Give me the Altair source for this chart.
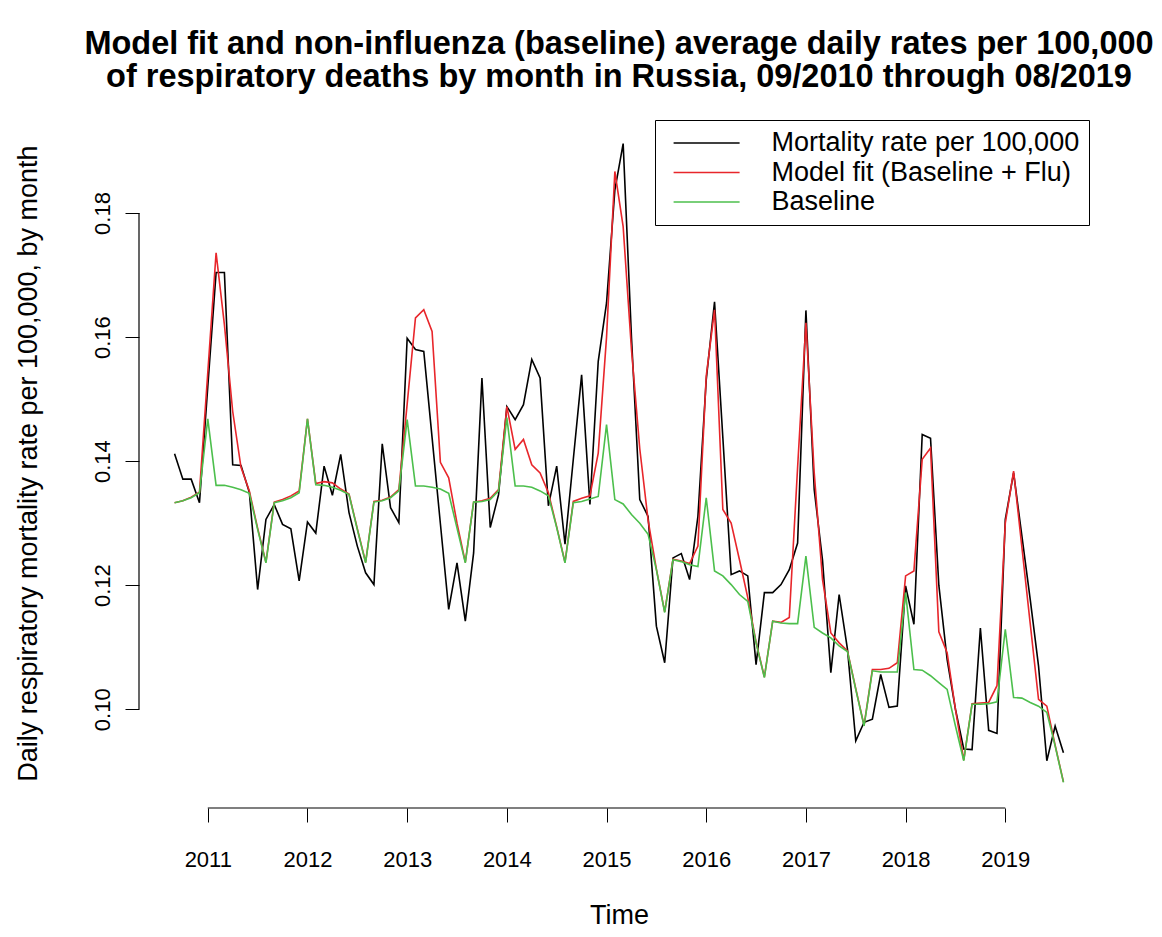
import altair as alt
import pandas as pd

# ---------------- data ----------------
START_YEAR = 2010
START_MONTH = 9   # September 2010 .. August 2019, monthly

mortality = [
    0.1412, 0.1371, 0.1371, 0.1333, 0.1520, 0.1704, 0.1704, 0.1394, 0.1393, 0.1350, 0.1193, 0.1306,
    0.1330, 0.1298, 0.1291, 0.1207, 0.1302, 0.1284, 0.1392, 0.1345, 0.1411, 0.1317, 0.1263, 0.1220,
    0.1201, 0.1428, 0.1325, 0.1301, 0.1598, 0.1580, 0.1577, 0.1438, 0.1299, 0.1161, 0.1236, 0.1142,
    0.1252, 0.1534, 0.1293, 0.1346, 0.1488, 0.1467, 0.1491, 0.1564, 0.1534, 0.1328, 0.1392, 0.1266,
    0.1403, 0.1539, 0.1330, 0.1561, 0.1655, 0.1837, 0.1912, 0.1600, 0.1338, 0.1311, 0.1134, 0.1075,
    0.1244, 0.1251, 0.1209, 0.1311, 0.1531, 0.1657, 0.1438, 0.1217, 0.1223, 0.1215, 0.1072, 0.1188,
    0.1188, 0.1201, 0.1225, 0.1268, 0.1643, 0.1354, 0.1240, 0.1059, 0.1185, 0.1097, 0.0949, 0.0979,
    0.0984, 0.1056, 0.1003, 0.1005, 0.1199, 0.1137, 0.1443, 0.1437, 0.1200, 0.1080, 0.1000, 0.0936,
    0.0935, 0.1131, 0.0966, 0.0961, 0.1306, 0.1381, 0.1279, 0.1177, 0.1070, 0.0917, 0.0973, 0.0930,
]

model_fit = [
    0.1333, 0.1336, 0.1342, 0.1350, 0.1543, 0.1736, 0.1620, 0.1480, 0.1390, 0.1352, 0.1292, 0.1237,
    0.1334, 0.1338, 0.1344, 0.1352, 0.1468, 0.1364, 0.1367, 0.1365, 0.1355, 0.1347, 0.1291, 0.1237,
    0.1335, 0.1337, 0.1342, 0.1354, 0.1492, 0.1631, 0.1644, 0.1609, 0.1398, 0.1373, 0.1300, 0.1237,
    0.1334, 0.1336, 0.1340, 0.1354, 0.1488, 0.1419, 0.1435, 0.1394, 0.1381, 0.1349, 0.1294, 0.1237,
    0.1335, 0.1340, 0.1344, 0.1413, 0.1600, 0.1867, 0.1778, 0.1580, 0.1420, 0.1305, 0.1226, 0.1157,
    0.1242, 0.1239, 0.1235, 0.1263, 0.1537, 0.1644, 0.1322, 0.1300, 0.1241, 0.1180, 0.1108, 0.1052,
    0.1142, 0.1140, 0.1148, 0.1390, 0.1623, 0.1381, 0.1209, 0.1123, 0.1107, 0.1094, 0.1033, 0.0974,
    0.1064, 0.1064, 0.1066, 0.1075, 0.1215, 0.1223, 0.1403, 0.1421, 0.1125, 0.1091, 0.1000, 0.0918,
    0.1009, 0.1010, 0.1011, 0.1038, 0.1300, 0.1384, 0.1261, 0.1138, 0.1016, 0.1005, 0.0942, 0.0883,
]

baseline = [
    0.1333, 0.1336, 0.1341, 0.1349, 0.1468, 0.1361, 0.1361, 0.1358, 0.1354, 0.1348, 0.1290, 0.1236,
    0.1333, 0.1336, 0.1341, 0.1349, 0.1468, 0.1362, 0.1361, 0.1358, 0.1353, 0.1346, 0.1290, 0.1236,
    0.1334, 0.1336, 0.1341, 0.1352, 0.1467, 0.1360, 0.1360, 0.1358, 0.1355, 0.1348, 0.1292, 0.1236,
    0.1334, 0.1335, 0.1338, 0.1352, 0.1470, 0.1360, 0.1360, 0.1358, 0.1352, 0.1344, 0.1293, 0.1236,
    0.1333, 0.1335, 0.1339, 0.1343, 0.1459, 0.1338, 0.1331, 0.1314, 0.1300, 0.1282, 0.1225, 0.1156,
    0.1241, 0.1238, 0.1233, 0.1230, 0.1341, 0.1223, 0.1215, 0.1201, 0.1185, 0.1174, 0.1107, 0.1051,
    0.1142, 0.1139, 0.1138, 0.1138, 0.1247, 0.1132, 0.1123, 0.1115, 0.1102, 0.1093, 0.1032, 0.0973,
    0.1062, 0.1060, 0.1060, 0.1060, 0.1188, 0.1064, 0.1063, 0.1054, 0.1043, 0.1032, 0.0973, 0.0917,
    0.1008, 0.1008, 0.1009, 0.1012, 0.1129, 0.1019, 0.1018, 0.1011, 0.1005, 0.0995, 0.0941, 0.0882,
]

SERIES = ["Mortality rate per 100,000", "Model fit (Baseline + Flu)", "Baseline"]
COLORS = ["#000000", "#E8262B", "#4CBF4C"]
X_TICKS = [2011, 2012, 2013, 2014, 2015, 2016, 2017, 2018, 2019]
Y_TICKS = [0.10, 0.12, 0.14, 0.16, 0.18]
TITLE = [
    "Model fit and non-influenza (baseline) average daily rates per 100,000",
    "of respiratory deaths by month in Russia, 09/2010 through 08/2019",
]
X_TITLE = "Time"
Y_TITLE = "Daily respiratory mortality rate per 100,000, by month"

# ---------------- table ----------------
n = len(mortality)
t = [START_YEAR + (START_MONTH - 1 + i) / 12 for i in range(n)]
rows = []
for name, vals in zip(SERIES, [mortality, model_fit, baseline]):
    for ti, v in zip(t, vals):
        rows.append({"t": ti, "v": v, "series": name})
df = pd.DataFrame(rows)

# R-style 4% extension of the data range
allv = mortality + model_fit + baseline
xpad = 0.04 * (max(t) - min(t))
ypad = 0.04 * (max(allv) - min(allv))
XDOM = [min(t) - xpad, max(t) + xpad]
YDOM = [min(allv) - ypad, max(allv) + ypad]

FONT = "Liberation Sans"
W, H = 960, 690

xs = alt.Scale(domain=XDOM, nice=False, zero=False)
ys = alt.Scale(domain=YDOM, nice=False, zero=False)

xaxis = alt.Axis(
    values=X_TICKS, format="d", domain=False, grid=False,
    ticks=True, tickSize=14, tickColor="black", tickWidth=1,
    labelFont=FONT, labelFontSize=22, labelColor="black", labelPadding=27,
    labelFlush=False, labelOverlap=False,
    title=X_TITLE, titleFont=FONT, titleFontSize=27, titleFontWeight="normal",
    titleColor="black", titleX=W / 2, titleY=115, titleAlign="center",
    titleBaseline="alphabetic",
)
yaxis = alt.Axis(
    values=Y_TICKS, format=".2f", domain=False, grid=False,
    ticks=True, tickSize=14, tickColor="black", tickWidth=1,
    labelFont=FONT, labelFontSize=22, labelColor="black", labelPadding=11,
    labelAngle=270, labelAlign="center", labelBaseline="bottom",
    labelFlush=False, labelOverlap=False,
    title=Y_TITLE, titleFont=FONT, titleFontSize=27, titleFontWeight="normal",
    titleColor="black", titleAngle=270, titleX=-97, titleY=H / 2,
    titleAlign="center", titleBaseline="bottom",
)

x_enc = alt.X("t:Q", scale=xs, axis=xaxis)
y_enc = alt.Y("v:Q", scale=ys, axis=yaxis)
color_enc = alt.Color(
    "series:N",
    scale=alt.Scale(domain=SERIES, range=COLORS),
    title=None,
    legend=alt.Legend(
        orient="none", legendX=516, legendY=2,
        strokeColor="black", fillColor="white", padding=9.5,
        labelFont=FONT, labelFontSize=27, labelColor="black", labelLimit=1000,
        symbolType="M-0.4,0H5.6", symbolSize=484, symbolStrokeWidth=1.6,
        labelOffset=80, rowPadding=1.5, cornerRadius=0,
    ),
)

base = alt.Chart(df)
lines = [
    base.transform_filter(alt.datum.series == s)
    .mark_line(strokeWidth=1.6)
    .encode(x=x_enc, y=y_enc, color=color_enc)
    for s in SERIES
]

xline = (
    alt.Chart(pd.DataFrame({"t": [X_TICKS[0]], "t2": [X_TICKS[-1]], "v": [YDOM[0]]}))
    .mark_rule(color="black", strokeWidth=1.2)
    .encode(x=x_enc, x2="t2:Q", y=y_enc)
)
yline = (
    alt.Chart(pd.DataFrame({"t": [XDOM[0]], "v": [Y_TICKS[0]], "v2": [Y_TICKS[-1]]}))
    .mark_rule(color="black", strokeWidth=1.2)
    .encode(x=x_enc, y=y_enc, y2="v2:Q")
)

chart = (
    alt.layer(*lines, xline, yline)
    .properties(
        width=W, height=H,
        autosize=alt.AutoSizeParams(type="none"),
        padding={"left": 131, "top": 110, "right": 55, "bottom": 121},
        title=alt.TitleParams(
            text=TITLE, font=FONT, fontSize=32.5, fontWeight="bold", color="black",
            anchor="middle", frame="group", offset=25, lineHeight=33,
        ),
        background="white",
    )
    .configure_view(stroke=None)
)

chart.save("out.html", embed_options={"renderer": "svg", "actions": False})
